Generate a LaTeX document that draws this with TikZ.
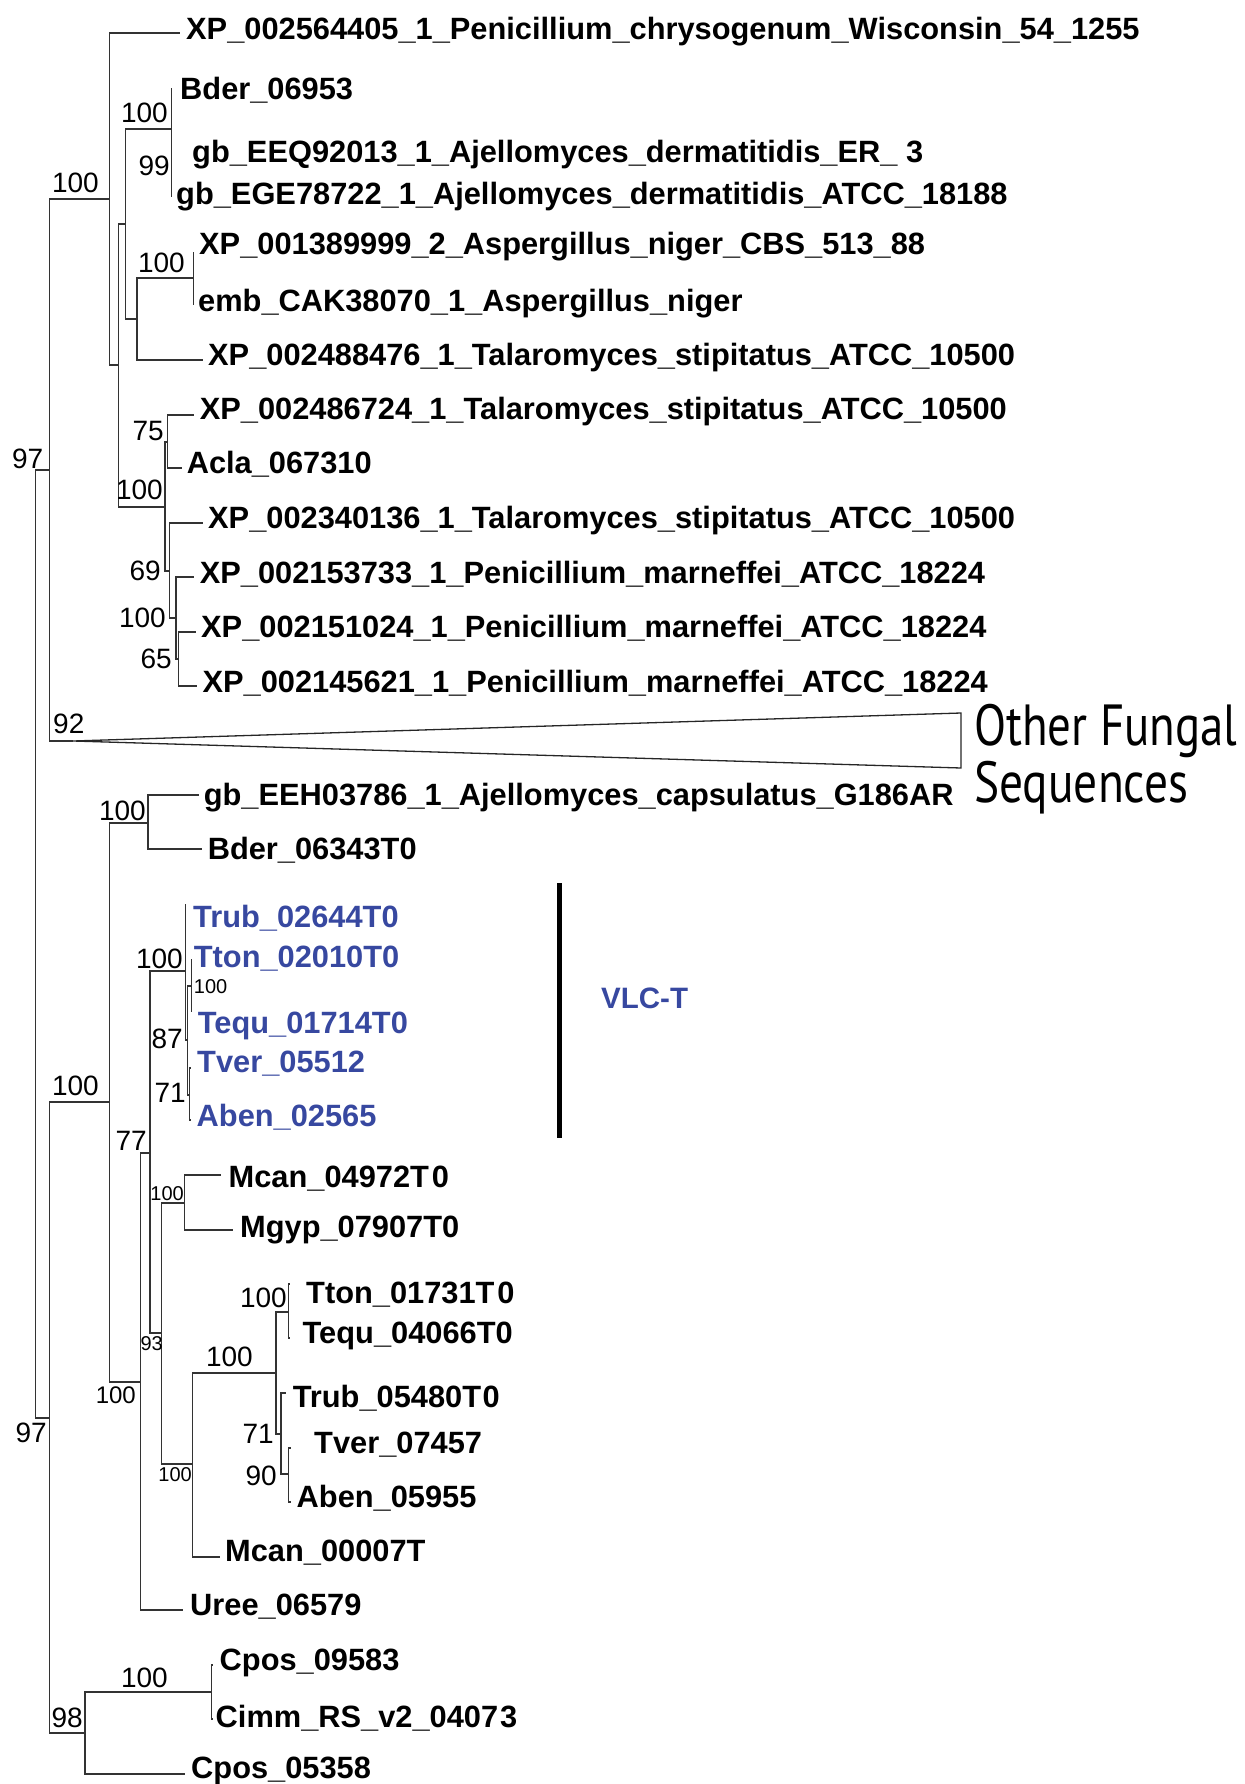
\documentclass[tikz,border=0pt]{standalone}
\usepackage{fontspec}
\setmainfont{Liberation Sans}
\newfontfamily\ofont{PT Sans}
\usepackage{graphicx}
\definecolor{vlc}{RGB}{55,72,160}
\tikzset{
  br/.style={line width=1.3pt, draw=black!80},
  leaf/.style={anchor=base west, inner sep=0pt, font=\bfseries\fontsize{30.8}{34}\selectfont},
  vleaf/.style={leaf, text=vlc},
  bs/.style={anchor=base east, inner sep=0pt, font=\fontsize{28}{30}\selectfont},
  bsm/.style={bs, font=\fontsize{24}{26}\selectfont},
  bss/.style={bs, font=\fontsize{20}{22}\selectfont},
  tri/.style={line width=1.3pt, draw=black!85},
}
\begin{document}
\begin{tikzpicture}[x=1pt,y=-1pt]
\path[use as bounding box] (0,0) rectangle (1244,1784);
% ---------- internal nodes ----------
\coordinate (R0) at (35.6,944);
\coordinate (U) at (49.8,470);
\coordinate (A1) at (109.5,199);
\coordinate (A2) at (118.6,365);
\coordinate (A3) at (125.7,224);
\coordinate (Bn) at (171.7,129);
\coordinate (As) at (137,319);
\coordinate (An) at (193.7,278);
\coordinate (A4) at (165,507);
\coordinate (N75) at (167.3,442);
\coordinate (N69) at (169.3,571);
\coordinate (Nb) at (176,618);
\coordinate (N65) at (178.3,659);
\coordinate (T) at (73,741);
\coordinate (Tt) at (961,713);
\coordinate (Tb) at (961,768);
\coordinate (L) at (49.8,1418);
\coordinate (B1) at (109.5,1102);
\coordinate (E1) at (148,823);
\coordinate (N77) at (140.4,1382);
\coordinate (V0) at (150,1153);
\coordinate (VA) at (185.7,971);
\coordinate (VB) at (187.5,1040);
\coordinate (VC) at (191.7,986);
\coordinate (VD) at (189.3,1095);
\coordinate (N93) at (161.7,1333);
\coordinate (M1) at (184.6,1203);
\coordinate (M2) at (192.7,1464);
\coordinate (T1) at (276,1373);
\coordinate (T2) at (288.3,1312);
\coordinate (T3) at (281,1434);
\coordinate (T4) at (288.3,1474);
\coordinate (C98) at (85,1733);
\coordinate (C1) at (211.5,1692);
% ---------- tips ----------
\coordinate (t1) at (180,33);
\coordinate (t2) at (171.7,88);
\coordinate (t4) at (171.7,197);
\coordinate (t5) at (193.7,252);
\coordinate (t6) at (193.7,305);
\coordinate (t7) at (203,360);
\coordinate (t8) at (194,415);
\coordinate (t9) at (181.7,468);
\coordinate (t10) at (203.3,523);
\coordinate (t11) at (194,577);
\coordinate (t12) at (196,632);
\coordinate (t13) at (197.3,686);
\coordinate (t14) at (199,795);
\coordinate (t15) at (201.6,849);
\coordinate (t16) at (185.7,904);
\coordinate (t17) at (191.7,959);
\coordinate (t18) at (191.7,1012);
\coordinate (t19) at (191.3,1068);
\coordinate (t20) at (191.3,1120);
\coordinate (t21) at (221,1175);
\coordinate (t22) at (233,1230);
\coordinate (t23) at (290,1284);
\coordinate (t24) at (290,1338);
\coordinate (t25) at (286,1393);
\coordinate (t26) at (291,1448);
\coordinate (t27) at (291,1502);
\coordinate (t28) at (219.5,1557);
\coordinate (t29) at (183,1610);
\coordinate (t30) at (213,1665);
\coordinate (t31) at (213,1719);
\coordinate (t32) at (185,1774);
% ---------- branches ----------
\draw[br] (R0) |- (U);  \draw[br] (R0) |- (L);
\draw[br] (U) |- (A1);  \draw[br] (U) |- (T);
\draw[br] (A1) |- (t1); \draw[br] (A1) |- (A2);
\draw[br] (A2) |- (A3); \draw[br] (A2) |- (A4);
\draw[br] (A3) |- (Bn); \draw[br] (A3) |- (As);
\draw[br] (Bn) |- (t2); \draw[br] (Bn) |- (t4);
\draw[br] (As) |- (An); \draw[br] (As) |- (t7);
\draw[br] (An) |- (t5); \draw[br] (An) |- (t6);
\draw[br] (A4) |- (N75); \draw[br] (A4) |- (N69);
\draw[br] (N75) |- (t8); \draw[br] (N75) |- (t9);
\draw[br] (N69) |- (t10); \draw[br] (N69) |- (Nb);
\draw[br] (Nb) |- (t11); \draw[br] (Nb) |- (N65);
\draw[br] (N65) |- (t12); \draw[br] (N65) |- (t13);
\draw[tri] (T) -- (Tt) -- (Tb) -- cycle;
\draw[br] (L) |- (B1); \draw[br] (L) |- (C98);
\draw[br] (B1) |- (E1); \draw[br] (B1) |- (N77);
\draw[br] (E1) |- (t14); \draw[br] (E1) |- (t15);
\draw[br] (N77) |- (V0); \draw[br] (N77) |- (t29);
\draw[br] (V0) |- (VA); \draw[br] (V0) |- (N93);
\draw[br] (VA) |- (t16); \draw[br] (VA) |- (VB);
\draw[br] (VB) |- (VC); \draw[br] (VB) |- (VD);
\draw[br] (VC) |- (t17); \draw[br] (VC) |- (t18);
\draw[br] (VD) |- (t19); \draw[br] (VD) |- (t20);
\draw[br] (N93) |- (M1); \draw[br] (N93) |- (M2);
\draw[br] (M1) |- (t21); \draw[br] (M1) |- (t22);
\draw[br] (M2) |- (T1); \draw[br] (M2) |- (t28);
\draw[br] (T1) |- (T2); \draw[br] (T1) |- (T3);
\draw[br] (T2) |- (t23); \draw[br] (T2) |- (t24);
\draw[br] (T3) |- (t25); \draw[br] (T3) |- (T4);
\draw[br] (T4) |- (t26); \draw[br] (T4) |- (t27);
\draw[br] (C98) |- (C1); \draw[br] (C98) |- (t32);
\draw[br] (C1) |- (t30); \draw[br] (C1) |- (t31);
% ---------- leaf labels ----------
\node[leaf] (l1) at (186,40) {XP\_002564405\_1\_Penicillium\_chrysogenum\_Wisconsin\_54\_1255};
\node[leaf] (l2) at (180,100) {Bder\_06953};
\node[leaf] (l3) at (192,163) {gb\_EEQ92013\_1\_Ajellomyces\_dermatitidis\_ER\_ 3};
\node[leaf] (l4) at (176,205) {gb\_EGE78722\_1\_Ajellomyces\_dermatitidis\_ATCC\_18188};
\node[leaf] (l5) at (199,255) {XP\_001389999\_2\_Aspergillus\_niger\_CBS\_513\_88};
\node[leaf] (l6) at (198,312) {emb\_CAK38070\_1\_Aspergillus\_niger};
\node[leaf] (l7) at (208,365) {XP\_002488476\_1\_Talaromyces\_stipitatus\_ATCC\_10500};
\node[leaf] (l8) at (199.7,419) {XP\_002486724\_1\_Talaromyces\_stipitatus\_ATCC\_10500};
\node[leaf] (l9) at (186.6,473) {Acla\_067310};
\node[leaf] (l10) at (208,528) {XP\_002340136\_1\_Talaromyces\_stipitatus\_ATCC\_10500};
\node[leaf] (l11) at (199.7,583) {XP\_002153733\_1\_Penicillium\_marneffei\_ATCC\_18224};
\node[leaf] (l12) at (201,637) {XP\_002151024\_1\_Penicillium\_marneffei\_ATCC\_18224};
\node[leaf] (l13) at (202.4,692) {XP\_002145621\_1\_Penicillium\_marneffei\_ATCC\_18224};
\node[leaf] (l14) at (203.6,805) {gb\_EEH03786\_1\_Ajellomyces\_capsulatus\_G186AR};
\node[leaf] (l15) at (207.6,859) {Bder\_06343T0};
\node[vleaf] (l16) at (193,927) {Trub\_02644T0};
\node[vleaf] (l17) at (193.7,967) {Tton\_02010T0};
\node[vleaf] (l18) at (197.7,1033) {Tequ\_01714T0};
\node[vleaf] (l19) at (197,1072) {Tver\_05512};
\node[vleaf] (l20) at (196.5,1126) {Aben\_02565};
\node[leaf] (l21) at (228.5,1187) {Mcan\_04972T\kern3pt 0};
\node[leaf] (l22) at (240,1237) {Mgyp\_07907T0};
\node[leaf] (l23) at (306,1303) {Tton\_01731T\kern3pt 0};
\node[leaf] (l24) at (302.5,1343) {Tequ\_04066T0};
\node[leaf] (l25) at (292.6,1407) {Trub\_05480T\kern1.5pt 0};
\node[leaf] (l26) at (314,1453) {Tver\_07457};
\node[leaf] (l27) at (296.5,1507) {Aben\_05955};
\node[leaf] (l28) at (225,1561) {Mcan\_00007T};
\node[leaf] (l29) at (190,1615) {Uree\_06579};
\node[leaf] (l30) at (219.5,1670) {Cpos\_09583};
\node[leaf] (l31) at (215.5,1727) {Cimm\_RS\_v2\_0407\kern2pt 3};
\node[leaf] (l32) at (191,1778) {Cpos\_05358};
% ---------- collapsed clade ----------
\node[anchor=base west, inner sep=0pt, font=\ofont\fontsize{58}{60}\selectfont] (of1) at (974,745) {\resizebox{263pt}{\height}{Other Fungal}};
\node[anchor=base west, inner sep=0pt, font=\ofont\fontsize{58}{60}\selectfont] (of2) at (974,802) {\resizebox{214pt}{\height}{Sequences}};
% ---------- VLC-T ----------
\coordinate (vt) at (559,883);
\coordinate (vb) at (559,1138);
\draw[line width=5pt] (vt) -- (vb);
\node[anchor=base west, inner sep=0pt, text=vlc, font=\bfseries\fontsize{29.5}{32}\selectfont] (vlct) at (601,1008) {VLC-T};
% ---------- support values ----------
\node[bs] (s1) at (99,193) {100};
\node[bs] (s2) at (168,123) {100};
\node[bs] (s3) at (170,176) {99};
\node[bs] (s4) at (185,273) {100};
\node[bs] (s5) at (164,440) {75};
\node[bs] (s6) at (163,499) {100};
\node[bs] (s7) at (161,580) {69};
\node[bs] (s8) at (166,627) {100};
\node[bs] (s9) at (172,668) {65};
\node[bs] (s10) at (43.5,468) {97};
\node[bs, anchor=base west] (s11) at (53,733) {92};
\node[bs] (s12) at (99,1095) {100};
\node[bs] (s13) at (146,820) {100};
\node[bs] (s14) at (147,1150) {77};
\node[bs] (s15) at (183,968) {100};
\node[bss, anchor=base west] (s16) at (193.7,993) {100};
\node[bs] (s17) at (183,1048) {87};
\node[bs] (s18) at (186,1102) {71};
\node[bss] (s19) at (184,1200) {100};
\node[bss] (s20) at (163,1350) {93};
\node[bsm] (s21) at (136,1403) {100};
\node[bss] (s22) at (192,1481) {100};
\node[bs] (s23) at (253,1366) {100};
\node[bs] (s24) at (287,1307) {100};
\node[bs] (s25) at (274,1443) {71};
\node[bs] (s26) at (277,1485) {90};
\node[bs] (s27) at (47,1442) {97};
\node[bs] (s28) at (83,1727) {98};
\node[bs] (s29) at (168,1687) {100};
\end{tikzpicture}
\end{document}
